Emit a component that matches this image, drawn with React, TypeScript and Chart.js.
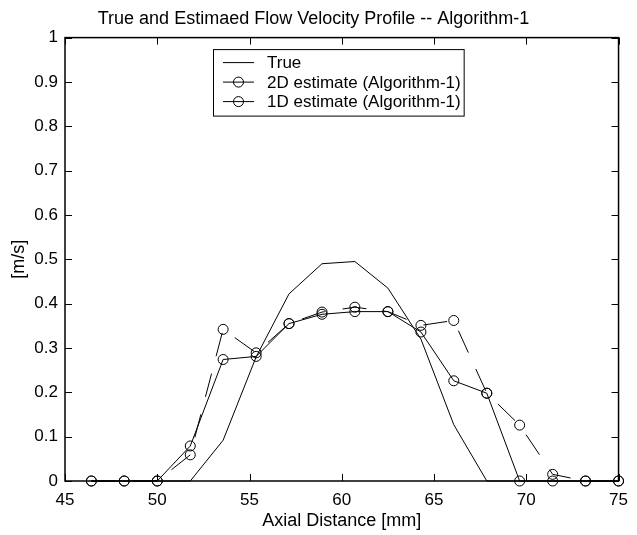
import React, { useEffect, useRef } from 'react';
import { Chart, registerables } from 'chart.js';

Chart.register(...registerables);

const chartTitle = 'True and Estimaed Flow Velocity Profile -- Algorithm-1';
const xAxisTitle = 'Axial Distance [mm]';
const yAxisTitle = '[m/s]';
const seriesLabels = ['True', '2D estimate (Algorithm-1)', '1D estimate (Algorithm-1)'];

const axialDistance = [46.43, 48.21, 50.0, 51.79, 53.57, 55.36, 57.14, 58.93, 60.71, 62.5, 64.29, 66.07, 67.86, 69.64, 71.43, 73.21, 75.0];
const trueProfile = [0, 0, 0, 0, 0.092, 0.28, 0.422, 0.49, 0.495, 0.435, 0.32, 0.127, 0, 0, 0, 0, 0];
const estimate2D = [0, 0, 0, 0.079, 0.274, 0.281, 0.355, 0.376, 0.382, 0.382, 0.336, 0.226, 0.198, 0, 0, 0, 0];
const estimate1D = [0, 0, 0, 0.059, 0.342, 0.289, 0.355, 0.381, 0.392, 0.382, 0.351, 0.362, 0.198, 0.126, 0.015, 0, 0];

const xTicks = [45, 50, 55, 60, 65, 70, 75];
const yTicks = [0, 0.1, 0.2, 0.3, 0.4, 0.5, 0.6, 0.7, 0.8, 0.9, 1];

const FONT = "'Liberation Sans', Arial, Helvetica, sans-serif";

const framePlugin = {
  id: 'matlabFrame',
  afterDatasetsDraw(chart: any) {
    const { ctx, chartArea: a, scales } = chart;
    const L = 7;
    ctx.save();
    ctx.strokeStyle = '#000';
    ctx.lineWidth = 1;
    ctx.beginPath();
    for (const v of xTicks) {
      const px = Math.round(scales.x.getPixelForValue(v)) + 0.5;
      ctx.moveTo(px, a.bottom);
      ctx.lineTo(px, a.bottom - L);
      ctx.moveTo(px, a.top);
      ctx.lineTo(px, a.top + L);
    }
    for (const v of yTicks) {
      const py = Math.round(scales.y.getPixelForValue(v)) + 0.5;
      ctx.moveTo(a.left, py);
      ctx.lineTo(a.left + L, py);
      ctx.moveTo(a.right, py);
      ctx.lineTo(a.right - L, py);
    }
    ctx.stroke();
    ctx.lineWidth = 1.5;
    ctx.strokeRect(a.left, a.top, a.right - a.left, a.bottom - a.top);
    ctx.restore();
  },
};

const legendPlugin = {
  id: 'matlabLegend',
  afterDraw(chart: any) {
    const { ctx, chartArea: a } = chart;
    const left = a.left + 148;
    const top = a.top + 11.5;
    const rowH = 19.5;
    const textX = left + 54;
    ctx.save();
    ctx.font = `17px ${FONT}`;
    let maxW = 0;
    for (const s of seriesLabels) maxW = Math.max(maxW, ctx.measureText(s).width);
    const w = textX + maxW + 3 - left;
    const h = rowH * 3 + 8;
    ctx.fillStyle = '#fff';
    ctx.fillRect(left, top, w, h);
    ctx.strokeStyle = '#000';
    ctx.lineWidth = 1;
    ctx.strokeRect(left + 0.5, top + 0.5, w, h);
    ctx.textBaseline = 'middle';
    ctx.textAlign = 'left';
    seriesLabels.forEach((s, i) => {
      const y = top + 13.5 + i * rowH;
      ctx.beginPath();
      ctx.moveTo(left + 10, y);
      ctx.lineTo(left + 41, y);
      ctx.stroke();
      if (i > 0) {
        ctx.beginPath();
        ctx.arc(left + 25.5, y, 5, 0, Math.PI * 2);
        ctx.stroke();
      }
      ctx.fillStyle = '#000';
      ctx.fillText(s, textX, y + 1);
    });
    ctx.restore();
  },
};

export default function App() {
  const canvasRef = useRef<HTMLCanvasElement | null>(null);

  useEffect(() => {
    if (!canvasRef.current) return;
    const pts = (ys: number[]) => axialDistance.map((x, i) => ({ x, y: ys[i] }));
    const chart = new Chart(canvasRef.current, {
      type: 'line',
      data: {
        datasets: [
          {
            label: seriesLabels[0],
            data: pts(trueProfile),
            borderColor: '#000',
            borderWidth: 1,
            pointRadius: 0,
            clip: false as any,
          },
          {
            label: seriesLabels[1],
            data: pts(estimate2D),
            borderColor: '#000',
            borderWidth: 1,
            pointRadius: 5,
            pointBorderWidth: 1,
            pointBorderColor: '#000',
            pointBackgroundColor: 'rgba(0,0,0,0)',
            clip: false as any,
          },
          {
            label: seriesLabels[2],
            data: pts(estimate1D),
            borderColor: '#000',
            borderWidth: 1,
            borderDash: [24, 18],
            pointRadius: 5,
            pointBorderWidth: 1,
            pointBorderColor: '#000',
            pointBackgroundColor: 'rgba(0,0,0,0)',
            clip: false as any,
          },
        ],
      },
      options: {
        animation: false,
        responsive: false,
        devicePixelRatio: 1,
        layout: { padding: { left: 0, right: 10, top: 0, bottom: 0 } },
        plugins: {
          legend: { display: false },
          tooltip: { enabled: false },
          title: {
            display: true,
            text: chartTitle,
            color: '#000',
            font: { family: FONT, size: 18, weight: 'normal' },
            padding: { top: 8, bottom: 8 },
          },
        },
        scales: {
          x: {
            type: 'linear',
            min: 45,
            max: 75,
            afterBuildTicks: (scale: any) => {
              scale.ticks = xTicks.map((v) => ({ value: v }));
            },
            afterFit: (scale: any) => {
              scale.height = 54;
            },
            grid: { display: false, drawTicks: false },
            border: { display: false },
            ticks: {
              color: '#000',
              padding: 9,
              maxRotation: 0,
              font: { family: FONT, size: 17 },
              callback: (v: any) => String(v),
            },
            title: {
              display: true,
              text: xAxisTitle,
              color: '#000',
              font: { family: FONT, size: 18 },
              padding: { top: 0, bottom: 3 },
            },
          },
          y: {
            type: 'linear',
            min: 0,
            max: 1,
            afterBuildTicks: (scale: any) => {
              scale.ticks = yTicks.map((v) => ({ value: v }));
            },
            afterFit: (scale: any) => {
              scale.width = 65;
            },
            grid: { display: false, drawTicks: false },
            border: { display: false },
            ticks: {
              color: '#000',
              padding: 7,
              font: { family: FONT, size: 17 },
              callback: (v: any) => String(Math.round(v * 10) / 10),
            },
            title: {
              display: true,
              text: yAxisTitle,
              color: '#000',
              font: { family: FONT, size: 18 },
              padding: { top: 8, bottom: 0 },
            },
          },
        },
      },
      plugins: [framePlugin, legendPlugin],
    });
    return () => chart.destroy();
  }, []);

  return (
    <div style={{ position: 'absolute', left: 0, top: 0, width: 637, height: 535, background: '#fff' }}>
      <canvas ref={canvasRef} width={637} height={535} style={{ display: 'block' }} />
    </div>
  );
}
